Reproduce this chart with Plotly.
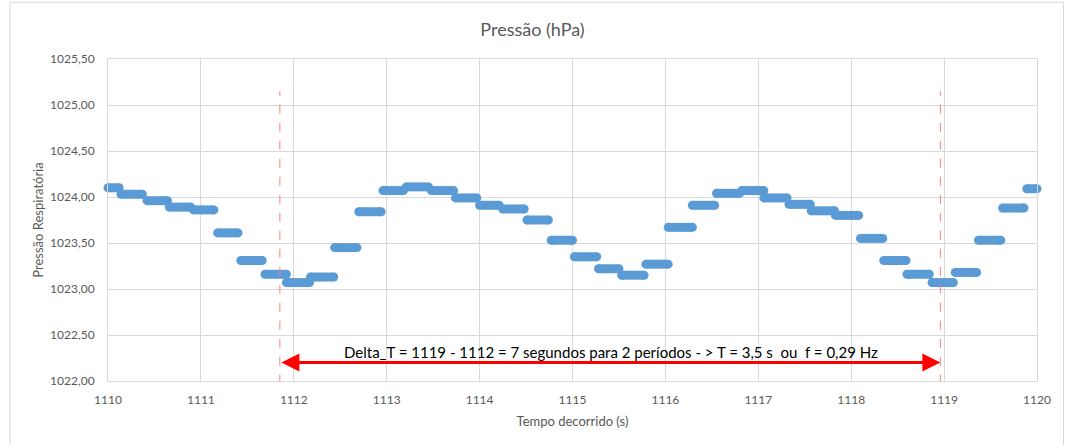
import plotly.graph_objects as go

# Pressure plateaus: start time (s), end time (s), pressure (hPa)
seg_start = [1110.00, 1110.14, 1110.42, 1110.66, 1110.92, 1111.18, 1111.43, 1111.69, 1111.92, 1112.18,
             1112.44, 1112.70, 1112.96, 1113.21, 1113.48, 1113.74, 1114.00, 1114.25, 1114.51, 1114.77,
             1115.02, 1115.28, 1115.53, 1115.79, 1116.03, 1116.29, 1116.55, 1116.82, 1117.06, 1117.33,
             1117.57, 1117.83, 1118.10, 1118.35, 1118.60, 1118.87, 1119.12, 1119.37, 1119.63, 1119.89]
seg_end = [1110.12, 1110.37, 1110.64, 1110.89, 1111.14, 1111.40, 1111.66, 1111.92, 1112.17, 1112.43,
           1112.68, 1112.94, 1113.18, 1113.45, 1113.72, 1113.97, 1114.21, 1114.48, 1114.74, 1115.00,
           1115.26, 1115.50, 1115.77, 1116.03, 1116.29, 1116.53, 1116.80, 1117.06, 1117.31, 1117.56,
           1117.82, 1118.08, 1118.34, 1118.59, 1118.84, 1119.10, 1119.35, 1119.61, 1119.86, 1120.00]
pressure = [1024.10, 1024.03, 1023.96, 1023.89, 1023.86, 1023.61, 1023.31, 1023.16, 1023.07, 1023.13,
            1023.45, 1023.84, 1024.07, 1024.11, 1024.07, 1023.99, 1023.91, 1023.87, 1023.75, 1023.53,
            1023.35, 1023.22, 1023.15, 1023.27, 1023.67, 1023.91, 1024.04, 1024.07, 1023.99, 1023.92,
            1023.85, 1023.80, 1023.55, 1023.31, 1023.16, 1023.07, 1023.18, 1023.53, 1023.88, 1024.09]

# Marked minima used for the period estimate
t_first = 1111.85
t_second = 1118.96
marker_top = 1025.15
arrow_level = 1022.20
note_text = "Delta_T = 1119 - 1112 = 7 segundos para 2 períodos - > T = 3,5 s  ou  f = 0,29 Hz"

x_ticks = list(range(1110, 1121))
y_ticks = [1022.0, 1022.5, 1023.0, 1023.5, 1024.0, 1024.5, 1025.0, 1025.5]

BLUE = "#5b9bd5"
GREY = "#595959"
GRID = "#d9d9d9"
FONT = "Lato, 'Open Sans', sans-serif"

xs, ys = [], []
for s, e, v in zip(seg_start, seg_end, pressure):
    xs += [s, e, None]
    ys += [v, v, None]

fig = go.Figure()
fig.add_trace(go.Scatter(
    x=xs, y=ys, mode="lines+markers",
    line=dict(color=BLUE, width=9),
    marker=dict(color=BLUE, size=9),
    cliponaxis=False, hoverinfo="skip", showlegend=False,
))

# dashed reference lines at the two marked minima
for t in (t_first, t_second):
    fig.add_shape(type="line", xref="x", yref="y", x0=t, x1=t, y0=1021.97, y1=marker_top,
                  line=dict(color="#ff7c7c", width=1, dash="dash"))

# double-headed arrow spanning the two periods
fig.add_annotation(x=t_second, y=arrow_level, ax=t_first, ay=arrow_level,
                   xref="x", yref="y", axref="x", ayref="y", text="",
                   showarrow=True, arrowhead=2, startarrowhead=2, arrowside="end+start",
                   arrowsize=1.2, startarrowsize=1.2, arrowwidth=3, arrowcolor="#ff0000")
fig.add_annotation(x=1115.41, y=1022.32, xref="x", yref="y", text=note_text, showarrow=False,
                   font=dict(family=FONT, size=15, color="#000000"))

# chart-area frame
fig.add_shape(type="rect", xref="paper", yref="paper", x0=-0.1055, x1=1.0285, y0=-0.3, y1=1.176,
              line=dict(color="#d9d9d9", width=1), layer="below")

fig.update_layout(
    width=1065, height=445,
    margin=dict(l=108, r=28, t=59, b=64),
    paper_bgcolor="white", plot_bgcolor="white",
    separators=",.",
    font=dict(family=FONT, color=GREY, size=12),
    title=dict(text="Pressão (hPa)", x=0.5, xref="container", xanchor="center",
               y=1 - 30 / 445, yref="container", yanchor="middle",
               font=dict(family=FONT, size=18, color=GREY)),
    showlegend=False,
)
fig.update_xaxes(range=[1110, 1120], tickvals=x_ticks, ticktext=[str(v) for v in x_ticks],
                 showgrid=True, gridcolor=GRID, gridwidth=1, zeroline=False,
                 showline=True, linecolor=GRID, mirror=True, ticks="", ticklen=0,
                 ticklabelstandoff=8,
                 tickfont=dict(size=12, color=GREY),
                 title=dict(text="Tempo decorrido (s)", font=dict(size=13, color=GREY), standoff=10))
fig.update_yaxes(range=[1022.0, 1025.5], tickvals=y_ticks, tickformat=".2f",
                 showgrid=True, gridcolor=GRID, gridwidth=1, zeroline=False,
                 showline=True, linecolor=GRID, mirror=True, ticks="", ticklen=0,
                 ticklabelstandoff=10,
                 tickfont=dict(size=12, color=GREY),
                 title=dict(text="Pressão Respiratória", font=dict(size=13, color=GREY), standoff=3))

fig.write_html("out.html")
